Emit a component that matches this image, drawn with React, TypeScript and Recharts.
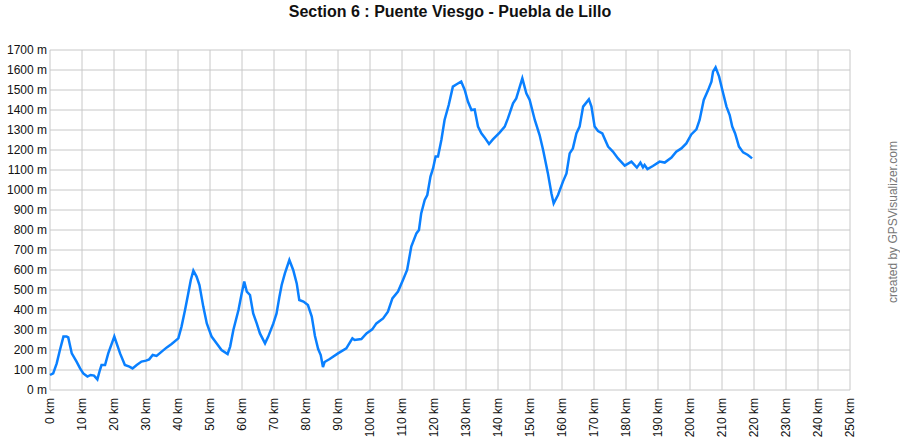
import { LineChart, Line, XAxis, YAxis, CartesianGrid } from "recharts";

// distance along the route (km) and elevation (m)
const distanceKm = [
  0, 1, 2.1, 3.1, 4.2, 5.2, 5.7, 6.8, 8.3, 9.4, 10.4, 11.7, 12.7, 13.75, 14.8, 15.6, 16.1, 17.2, 18.2, 20.1,
  21.9, 23.4, 24.8, 25.8, 27.1, 28.6, 30, 31, 32.1, 33.3, 34.9, 36.5, 38, 40.1, 41.1, 42.2, 43.2, 44, 44.8, 45.8,
  46.7, 47.9, 49, 50.5, 52.1, 53.6, 55.5, 56.3, 57.3, 58.9, 59.9, 60.7, 61.5, 62.5, 63.5, 64.6, 65.6, 67.2, 68.2, 69.8,
  70.8, 71.7, 72.4, 73.4, 74.8, 76, 77.1, 77.9, 79.2, 80.6, 81.8, 82.8, 83.8, 84.6, 85.3, 85.8, 87.4, 90, 92.6, 94.5,
  95.2, 97.3, 98.9, 100.7, 102, 104.1, 105.6, 107, 108.75, 110.3, 111.6, 112.9, 114.5, 115.3, 116, 117.1, 117.9, 118.9, 119.7, 120.5,
  121.25, 122.3, 123.3, 124.6, 125.9, 127.2, 128.5, 129.6, 130.6, 131.7, 132.7, 133.75, 134.8, 135.8, 137.2, 138.4, 140.5, 142.1, 143.1, 144.7,
  145.7, 147.6, 148.85, 149.9, 151.5, 153, 154.1, 155.6, 156.7, 157.4, 158.75, 160.3, 161.4, 162.4, 163.4, 164.5, 165.5, 166.6, 168.4, 169.2,
  170.2, 171.25, 172.6, 174.4, 175.9, 177.5, 179.6, 181.7, 183.4, 184.5, 185.3, 185.8, 186.7, 188.4, 190.5, 192.1, 194.2, 195.7, 197.3, 198.85,
  200.4, 202, 203, 204.3, 205.6, 206.7, 207.2, 208, 209.1, 210.1, 211.4, 212.4, 213.2, 214.1, 215.3, 216.6, 218.1, 219.4,
];
const elevationM = [
  75, 83, 133, 200, 267, 267, 263, 183, 142, 108, 83, 67, 75, 72, 53, 100, 125, 125, 183, 267,
  183, 125, 117, 108, 125, 142, 147, 153, 175, 170, 192, 213, 230, 258, 317, 400, 483, 550, 597, 567,
  525, 417, 333, 267, 233, 200, 180, 217, 300, 400, 483, 542, 492, 475, 383, 333, 283, 233, 267, 333,
  383, 467, 525, 583, 650, 600, 533, 450, 442, 425, 367, 270, 205, 175, 115, 140, 155, 183, 208, 258,
  250, 255, 283, 303, 333, 358, 392, 458, 492, 550, 600, 717, 783, 800, 883, 950, 975, 1067, 1108, 1167,
  1167, 1250, 1350, 1425, 1517, 1530, 1542, 1500, 1442, 1400, 1403, 1317, 1283, 1263, 1230, 1253, 1287, 1317, 1358, 1433,
  1458, 1558, 1483, 1450, 1350, 1275, 1200, 1083, 983, 933, 975, 1042, 1083, 1183, 1208, 1283, 1317, 1417, 1453, 1417,
  1317, 1295, 1283, 1217, 1192, 1158, 1122, 1142, 1112, 1137, 1113, 1125, 1105, 1120, 1142, 1137, 1162, 1192, 1208, 1233,
  1278, 1303, 1350, 1450, 1497, 1542, 1592, 1613, 1567, 1500, 1417, 1375, 1317, 1283, 1217, 1188, 1175, 1158,
];

const xTicks = [0, 10, 20, 30, 40, 50, 60, 70, 80, 90, 100, 110, 120, 130, 140, 150, 160, 170, 180, 190, 200, 210, 220, 230, 240, 250];
const yTicks = [0, 100, 200, 300, 400, 500, 600, 700, 800, 900, 1000, 1100, 1200, 1300, 1400, 1500, 1600, 1700];

const data = distanceKm.map((km, i) => ({ km, ele: elevationM[i] }));

const FONT = "'Liberation Sans', Arial, sans-serif";

const renderXTick = ({ x, y, payload }: any) => (
  <text
    x={x}
    y={y}
    transform={`rotate(-90 ${x} ${y})`}
    textAnchor="end"
    dominantBaseline="central"
    fontSize={12}
    fontFamily={FONT}
    fill="#111"
  >
    {`${payload.value} km`}
  </text>
);

export default function App() {
  return (
    <div style={{ position: "absolute", left: 0, top: 0, width: 900, height: 440, background: "#fff", fontFamily: FONT }}>
      <div
        style={{
          position: "absolute",
          left: 0,
          top: 3,
          width: 900,
          textAlign: "center",
          fontSize: 16,
          fontWeight: "bold",
          color: "#111",
        }}
      >
        Section 6 : Puente Viesgo - Puebla de Lillo
      </div>
      <div
        style={{
          position: "absolute",
          left: 893,
          top: 222,
          transform: "translate(-50%, -50%) rotate(-90deg)",
          whiteSpace: "nowrap",
          fontSize: 12,
          color: "#777",
        }}
      >
        created by GPSVisualizer.com
      </div>
      <LineChart width={900} height={440} data={data} margin={{ top: 50, right: 50, bottom: 0, left: 0 }}>
        <CartesianGrid stroke="#c8c8c8" strokeWidth={1} />
        <XAxis
          dataKey="km"
          type="number"
          domain={[0, 250]}
          ticks={xTicks}
          interval={0}
          axisLine={false}
          tickLine={false}
          tickSize={0}
          tickMargin={8}
          height={50}
          tick={renderXTick}
        />
        <YAxis
          type="number"
          domain={[0, 1700]}
          ticks={yTicks}
          interval={0}
          axisLine={false}
          tickLine={false}
          tickSize={0}
          tickMargin={3}
          width={50}
          tickFormatter={(v: number) => `${v} m`}
          tick={{ fontSize: 12, fill: "#111", fontFamily: FONT }}
        />
        <Line
          type="linear"
          dataKey="ele"
          stroke="#0a80ff"
          strokeWidth={2.5}
          dot={false}
          isAnimationActive={false}
        />
      </LineChart>
    </div>
  );
}
